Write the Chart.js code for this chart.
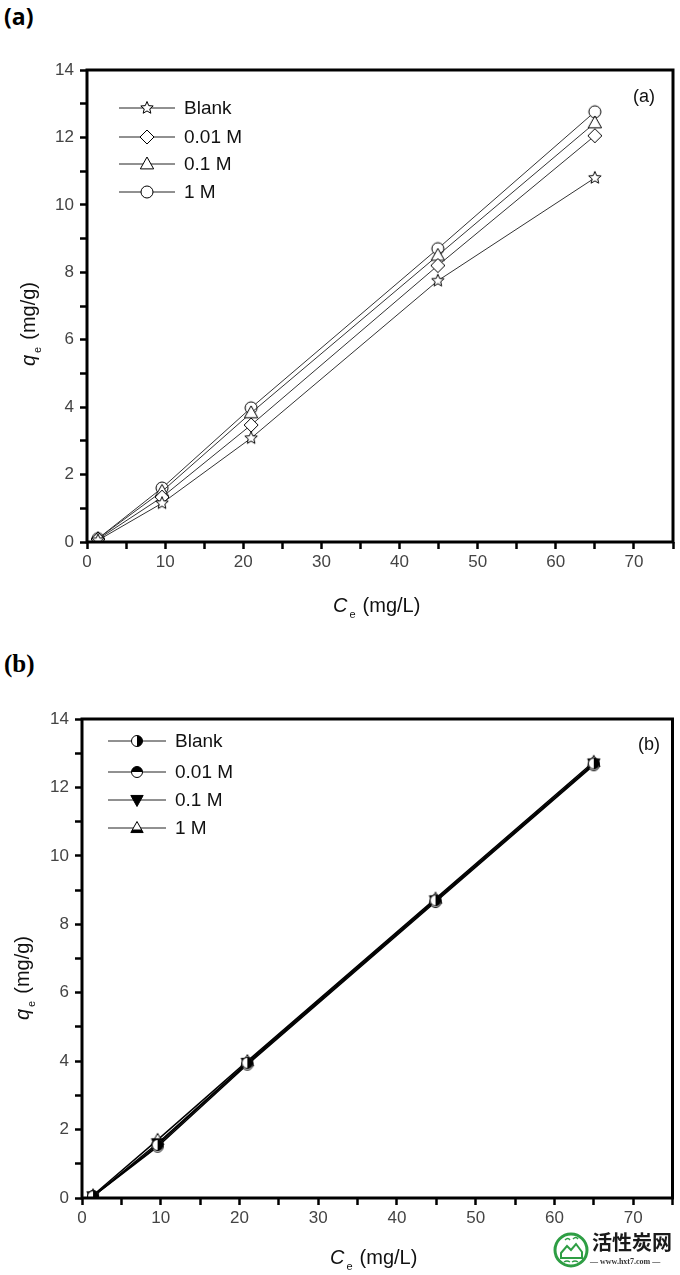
<!DOCTYPE html>
<html>
<head>
<meta charset="utf-8">
<script src="https://cdn.jsdelivr.net/npm/chart.js@4.4.1/dist/chart.umd.min.js"></script>
<style>
  html, body { margin: 0; padding: 0; background: #fff; }
  body { width: 680px; height: 1275px; position: relative; overflow: hidden; }
  canvas { position: absolute; left: 0; }
  #chartA { top: 0; }
  #chartB { top: 640px; }
  .panel { position: absolute; left: 4px; font-weight: bold; color: #000; }
  #labA { top: 0px; font: bold 23px 'Open Sans', sans-serif; }
  #labB { top: 650px; font: bold 25px 'Liberation Serif', serif; }
  #mark { position: absolute; left: 550px; top: 1229px; width: 130px; height: 46px; }
  #mark .cn { position: absolute; left: 42px; top: 0; font: bold 20px 'Noto Sans CJK SC', sans-serif; color: #1a1a1a; line-height: 26px; white-space: nowrap; }
  #mark .url { position: absolute; left: 40px; top: 28px; font: bold 8px 'Liberation Serif', serif; color: #333; white-space: nowrap; }
</style>
</head>
<body>
<div class="panel" id="labA">(a)</div>
<div class="panel" id="labB">(b)</div>
<canvas id="chartA" width="680" height="640"></canvas>
<canvas id="chartB" width="680" height="635"></canvas>
<div id="mark">
  <svg width="38" height="38" viewBox="0 0 38 38" style="position:absolute;left:2px;top:2px">
    <circle cx="19" cy="19" r="16" fill="none" stroke="#2e9e44" stroke-width="3"/>
    <path d="M9 22 L15 15 L19 19 L24 13 L30 21 L30 27 L9 27 Z" fill="none" stroke="#2e9e44" stroke-width="2"/>
    <path d="M13 9 q3 -3 5 0 M21 8 q3 -3 5 0 M12 31 q3 -2 6 0 M20 31 q3 -2 6 0" fill="none" stroke="#2e9e44" stroke-width="1.5"/>
  </svg>
  <div class="cn">活性炭网</div>
  <div class="url">— www.hxt7.com —</div>
</div>
<script>
// ===== 数据 =====
const ceValues = [1.4, 9.6, 21.0, 44.9, 65.0];
const seriesNames = ['Blank', '0.01 M', '0.1 M', '1 M'];

// (a)
const qeBlankA = [0.05, 1.15, 3.08, 7.75, 10.8];
const qe001A = [0.08, 1.33, 3.47, 8.2, 12.05];
const qe01A = [0.1, 1.5, 3.83, 8.5, 12.43];
const qe1A = [0.1, 1.6, 3.98, 8.7, 12.76];

// (b)
const qeBlankB = [0.05, 1.55, 3.95, 8.7, 12.7];
const qe001B = [0.05, 1.5, 3.9, 8.65, 12.65];
const qe01B = [0.05, 1.6, 3.95, 8.7, 12.7];
const qe1B = [0.08, 1.7, 4.0, 8.75, 12.75];

const xTickLabels = ['0', '10', '20', '30', '40', '50', '60', '70'];
const yTickLabels = ['0', '2', '4', '6', '8', '10', '12', '14'];

const FONT = "'Liberation Sans', Arial, sans-serif";

// ===== 符号 =====
function marker(draw, size = 18) {
  const c = document.createElement('canvas');
  c.width = size;
  c.height = size;
  const g = c.getContext('2d');
  g.translate(size / 2, size / 2);
  g.lineWidth = 1;
  g.strokeStyle = '#000';
  draw(g);
  return c;
}

function starPath(g, r) {
  g.beginPath();
  for (let i = 0; i < 10; i++) {
    const rr = i % 2 === 0 ? r : r * 0.45;
    const a = -Math.PI / 2 + (i * Math.PI) / 5;
    g.lineTo(rr * Math.cos(a), rr * Math.sin(a));
  }
  g.closePath();
}

function triPath(g, r, down) {
  const s = down ? -1 : 1;
  g.beginPath();
  g.moveTo(0, -r * s);
  g.lineTo(r * 0.95, r * 0.7 * s);
  g.lineTo(-r * 0.95, r * 0.7 * s);
  g.closePath();
}

const markersA = [
  marker((g) => { starPath(g, 6.5); g.fillStyle = '#fff'; g.fill(); g.stroke(); }),
  marker((g) => { g.beginPath(); g.moveTo(0, -7); g.lineTo(7, 0); g.lineTo(0, 7); g.lineTo(-7, 0); g.closePath(); g.fillStyle = '#fff'; g.fill(); g.stroke(); }),
  marker((g) => { triPath(g, 7, false); g.fillStyle = '#fff'; g.fill(); g.stroke(); }),
  marker((g) => { g.beginPath(); g.arc(0, 0, 6, 0, Math.PI * 2); g.fillStyle = '#fff'; g.fill(); g.stroke(); }),
];

const markersB = [
  marker((g) => {
    g.beginPath(); g.arc(0, 0, 5.5, 0, Math.PI * 2); g.fillStyle = '#fff'; g.fill();
    g.beginPath(); g.arc(0, 0, 5.5, -Math.PI / 2, Math.PI / 2); g.closePath(); g.fillStyle = '#000'; g.fill();
    g.beginPath(); g.arc(0, 0, 5.5, 0, Math.PI * 2); g.stroke();
  }),
  marker((g) => {
    g.beginPath(); g.arc(0, 0, 5.5, 0, Math.PI * 2); g.fillStyle = '#fff'; g.fill();
    g.beginPath(); g.arc(0, 0, 5.5, Math.PI, Math.PI * 2); g.closePath(); g.fillStyle = '#000'; g.fill();
    g.beginPath(); g.arc(0, 0, 5.5, 0, Math.PI * 2); g.stroke();
  }),
  marker((g) => { triPath(g, 6.5, true); g.fillStyle = '#000'; g.fill(); g.stroke(); }),
  marker((g) => {
    triPath(g, 6.5, false); g.fillStyle = '#fff'; g.fill();
    g.save(); g.clip(); g.fillStyle = '#000'; g.fillRect(-8, 1.5, 16, 6); g.restore();
    triPath(g, 6.5, false); g.stroke();
  }),
];

// ===== 边框 + 图例 + 轴标题 =====
const framePlugin = {
  id: 'frame',
  afterDraw(chart, args, opts) {
    const { ctx, chartArea: a } = chart;
    ctx.save();
    ctx.lineWidth = 3;
    ctx.strokeStyle = '#000';
    ctx.strokeRect(a.left, a.top, a.right - a.left, a.bottom - a.top);

    // 图例
    ctx.textBaseline = 'middle';
    ctx.fillStyle = '#111';
    opts.legend.rows.forEach((y, i) => {
      ctx.lineWidth = 1;
      ctx.strokeStyle = '#222';
      ctx.beginPath();
      ctx.moveTo(opts.legend.x1, y);
      ctx.lineTo(opts.legend.x2, y);
      ctx.stroke();
      const m = opts.markers[i];
      const mx = (opts.legend.x1 + opts.legend.x2) / 2;
      ctx.drawImage(m, mx - m.width / 2, y - m.height / 2);
      ctx.font = '19px ' + FONT;
      ctx.fillText(seriesNames[i], opts.legend.tx, y + 1);
    });

    // 角标
    ctx.font = '18px ' + FONT;
    ctx.textAlign = 'left';
    ctx.fillText(opts.tag, opts.tagX, opts.tagY);

    // 轴标题（带下标）
    const drawTitle = (main, rest) => {
      ctx.font = 'italic 20px ' + FONT;
      const w1 = ctx.measureText(main).width;
      ctx.fillText(main, 0, 0);
      ctx.font = '11px ' + FONT;
      ctx.fillText('e', w1 + 2, 9);
      const w2 = ctx.measureText('e').width;
      ctx.font = '20px ' + FONT;
      ctx.fillText(rest, w1 + w2 + 9, 0);
    };
    ctx.save();
    ctx.translate(opts.xTitle.x, opts.xTitle.y);
    drawTitle('C', '(mg/L)');
    ctx.restore();

    ctx.save();
    ctx.translate(opts.yTitle.x, opts.yTitle.y);
    ctx.rotate(-Math.PI / 2);
    drawTitle('q', '(mg/g)');
    ctx.restore();

    ctx.restore();
  },
};

function buildChart(id, seriesList, markers, lineColor, lineWidth, layout, frameOpts) {
  const datasets = seriesList.map((vals, i) => ({
    label: seriesNames[i],
    data: ceValues.map((x, j) => ({ x, y: vals[j] })),
    showLine: true,
    borderColor: lineColor,
    borderWidth: lineWidth,
    pointStyle: markers[i],
    pointRadius: 6,
    tension: 0,
  }));

  return new Chart(document.getElementById(id), {
    type: 'scatter',
    data: { datasets },
    options: {
      responsive: false,
      animation: false,
      events: [],
      layout: { padding: layout.padding },
      scales: {
        x: {
          type: 'linear',
          min: 0,
          max: 75,
          afterFit: (s) => { s.height = layout.xHeight; },
          ticks: {
            stepSize: 5,
            padding: 3,
            color: '#444',
            font: { size: 17, family: FONT },
            callback: (v) => (v % 10 === 0 ? xTickLabels[v / 10] : ''),
          },
          grid: { drawOnChartArea: false, tickLength: 7, tickWidth: 2.5, tickColor: '#000' },
          border: { display: false },
        },
        y: {
          min: 0,
          max: 14,
          afterFit: (s) => { s.width = layout.yWidth; },
          ticks: {
            stepSize: 1,
            padding: 6,
            color: '#444',
            font: { size: 17, family: FONT },
            callback: (v) => (v % 2 === 0 ? yTickLabels[v / 2] : ''),
          },
          grid: { drawOnChartArea: false, tickLength: 7, tickWidth: 2.5, tickColor: '#000' },
          border: { display: false },
        },
      },
      plugins: {
        legend: { display: false },
        tooltip: { enabled: false },
        frame: frameOpts,
      },
    },
    plugins: [framePlugin],
  });
}

buildChart(
  'chartA',
  [qeBlankA, qe001A, qe01A, qe1A],
  markersA,
  '#333',
  1,
  { padding: { top: 70, right: 5, left: 0, bottom: 0 }, xHeight: 98, yWidth: 87 },
  {
    markers: markersA,
    legend: { x1: 119, x2: 175, tx: 184, rows: [108, 137, 164, 192] },
    tag: '(a)',
    tagX: 633,
    tagY: 97,
    xTitle: { x: 333, y: 606 },
    yTitle: { x: 29, y: 366 },
  }
);

buildChart(
  'chartB',
  [qeBlankB, qe001B, qe01B, qe1B],
  markersB,
  '#000',
  1.5,
  { padding: { top: 79, right: 3, left: 0, bottom: 0 }, xHeight: 77, yWidth: 82 },
  {
    markers: markersB,
    legend: { x1: 108, x2: 166, tx: 175, rows: [101, 132, 160, 188] },
    tag: '(b)',
    tagX: 638,
    tagY: 105,
    xTitle: { x: 330, y: 618 },
    yTitle: { x: 23, y: 380 },
  }
);
</script>
</body>
</html>
